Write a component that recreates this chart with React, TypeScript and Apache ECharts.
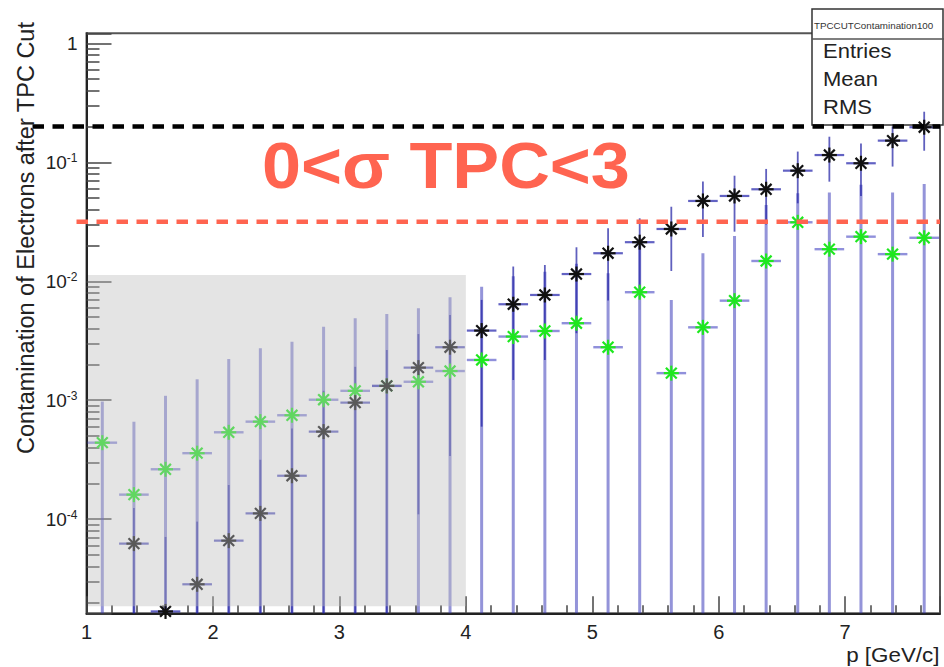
import React, { useEffect, useRef } from 'react';
import * as echarts from 'echarts';

// Momentum bins (GeV/c), 0.25 GeV/c wide
const pBins = [
  1.125, 1.375, 1.625, 1.875, 2.125, 2.375, 2.625, 2.875, 3.125, 3.375,
  3.625, 3.875, 4.125, 4.375, 4.625, 4.875, 5.125, 5.375, 5.625, 5.875,
  6.125, 6.375, 6.625, 6.875, 7.125, 7.375, 7.625,
];
const binHalfWidth = 0.125;

// Contamination, black markers (first bin empty)
const contamBlack = [
  null, 6.24e-5, 1.68e-5, 2.84e-5, 6.61e-5, 1.12e-4, 2.32e-4, 5.45e-4, 9.55e-4, 1.32e-3,
  1.88e-3, 2.79e-3, 3.85e-3, 6.41e-3, 7.67e-3, 1.15e-2, 1.72e-2, 2.13e-2, 2.75e-2, 4.73e-2,
  5.21e-2, 5.93e-2, 8.5e-2, 0.115, 0.0981, 0.152, 0.197,
];
// error band edges; 0 means the lower edge falls below the axis
const blackLow = [
  null, 0, 0, 0, 0, 0, 0, 0, 0, 0,
  1.1e-4, 3.4e-4, 6.0e-4, 1.48e-3, 2.18e-3, 3.66e-3, 6.9e-3, 8.5e-3, 1.22e-2, 2.35e-2,
  2.61e-2, 3.0e-2, 4.52e-2, 6.87e-2, 5.2e-2, 9.2e-2, 0.125,
];
const blackHigh = [
  null, 1.24e-4, 7.1e-5, 9.55e-5, 1.94e-4, 3.16e-4, 5.8e-4, 1.2e-3, 1.91e-3, 2.64e-3,
  3.6e-3, 5.2e-3, 6.97e-3, 1.33e-2, 1.37e-2, 1.93e-2, 2.79e-2, 3.38e-2, 4.23e-2, 6.9e-2,
  7.71e-2, 8.79e-2, 0.123, 0.164, 0.144, 0.2, 0.266,
];

// Contamination, green markers
const contamGreen = [
  4.4e-4, 1.61e-4, 2.63e-4, 3.59e-4, 5.38e-4, 6.61e-4, 7.48e-4, 1.01e-3, 1.2e-3, 1.32e-3,
  1.43e-3, 1.76e-3, 2.18e-3, 3.43e-3, 3.82e-3, 4.44e-3, 2.79e-3, 8.09e-3, 1.69e-3, 4.1e-3,
  6.87e-3, 1.48e-2, 3.13e-2, 1.86e-2, 2.37e-2, 1.69e-2, 2.32e-2,
];
const greenLow = [
  0, 0, 0, 0, 0, 0, 0, 0, 0, 0,
  0, 0, 0, 0, 0, 0, 0, 0, 0, 0,
  0, 0, 0, 0, 0, 0, 0,
];
const greenHigh = [
  9.75e-4, 6.6e-4, 1.09e-3, 1.5e-3, 2.22e-3, 2.73e-3, 3.1e-3, 4.15e-3, 4.89e-3, 5.31e-3,
  5.93e-3, 7.34e-3, 9.0e-3, 1.1e-2, 1.2e-2, 1.4e-2, 1.17e-2, 2.0e-2, 6.97e-3, 1.72e-2,
  2.4e-2, 4.38e-2, 5.5e-2, 5.56e-2, 6.46e-2, 5.56e-2, 6.57e-2,
];

// Horizontal cut levels: upper (black) and lower (red)
const cutLevels = [0.2, 0.0317];

// Shaded low-momentum region: p range and contamination range
const shadeP = [1, 4];
const shadeY = [1.86e-5, 0.0113];

const xRange = [1, 7.75];
const yRange = [1.62e-5, 1.213];

const FONT = '"Liberation Sans", Arial, Helvetica, sans-serif';
const RED = '#ff6450';

const points = (vals: (number | null)[], lo: (number | null)[], hi: (number | null)[]) =>
  pBins
    .map((p, i) => [p, vals[i], lo[i], hi[i]])
    .filter((d) => d[1] != null) as number[][];

const blackData = points(contamBlack, blackLow, blackHigh);
const greenData = points(contamGreen, greenLow, greenHigh);

function errorRenderer(vStroke: string, vWidth: number, hStroke: string, hWidth: number) {
  return (params: any, api: any) => {
    const x = api.value(0);
    const v = api.value(1);
    const lo = api.value(2);
    const hi = api.value(3);
    const cs = params.coordSys;
    const bottom = cs.y + cs.height;
    const top = api.coord([x, hi]);
    const low = lo > 0 ? api.coord([x, lo]) : [top[0], bottom];
    const left = api.coord([x - binHalfWidth, v]);
    const right = api.coord([x + binHalfWidth, v]);
    return {
      type: 'group',
      children: [
        {
          type: 'line',
          shape: { x1: top[0], y1: top[1], x2: low[0], y2: Math.min(low[1], bottom) },
          style: { stroke: vStroke, lineWidth: vWidth },
        },
        {
          type: 'line',
          shape: { x1: left[0] + 1, y1: left[1], x2: right[0] - 1, y2: right[1] },
          style: { stroke: hStroke, lineWidth: hWidth },
        },
      ],
    };
  };
}

function starRenderer(color: string, lw: number) {
  return (_params: any, api: any) => {
    const c = api.coord([api.value(0), api.value(1)]);
    const r = 7.5;
    const d = r * 0.72;
    const seg = (x1: number, y1: number, x2: number, y2: number) => ({
      type: 'line',
      shape: { x1: c[0] + x1, y1: c[1] + y1, x2: c[0] + x2, y2: c[1] + y2 },
      style: { stroke: color, lineWidth: lw },
    });
    return {
      type: 'group',
      children: [seg(-r, 0, r, 0), seg(0, -r, 0, r), seg(-d, -d, d, d), seg(-d, d, d, -d)],
    };
  };
}

const cutStyles = [
  { color: '#000000', extendLeft: 54 },
  { color: RED, extendLeft: 10 },
];

function buildOption(): any {
  return {
    animation: false,
    backgroundColor: '#ffffff',
    grid: {
      left: 86.5,
      right: 4,
      top: 33.3,
      bottom: 53.7,
      show: true,
      borderColor: '#555555',
      borderWidth: 2,
      backgroundColor: 'transparent',
      outerBoundsMode: 'none',
    },
    xAxis: {
      type: 'value',
      min: xRange[0],
      max: xRange[1],
      interval: 1,
      axisLine: { onZero: false, lineStyle: { color: '#222222', width: 2 } },
      axisTick: { inside: true, length: 17, lineStyle: { color: '#444444', width: 1.5 } },
      minorTick: { show: true, splitNumber: 5, length: 8, lineStyle: { color: '#444444', width: 1.5 } },
      splitLine: { show: false },
      minorSplitLine: { show: false },
      axisLabel: {
        showMaxLabel: false,
        margin: 9,
        fontSize: 20,
        color: '#222222',
        fontFamily: FONT,
        formatter: (v: number) => (Number.isInteger(v) ? String(v) : ''),
      },
    },
    yAxis: {
      type: 'log',
      logBase: 10,
      min: yRange[0],
      max: yRange[1],
      axisLine: { show: true, onZero: false, lineStyle: { color: '#222222', width: 2 } },
      axisTick: { inside: true, length: 25, lineStyle: { color: '#444444', width: 1.5 } },
      minorTick: { show: true, splitNumber: 9, length: 13, lineStyle: { color: '#444444', width: 1.5 } },
      splitLine: { show: false },
      minorSplitLine: { show: false },
      axisLabel: {
        showMinLabel: false,
        showMaxLabel: false,
        margin: 9,
        color: '#222222',
        fontFamily: FONT,
        formatter: (v: number) => {
          const l = Math.log10(v);
          const e = Math.round(l);
          if (Math.abs(l - e) > 1e-6) return '';
          if (e === 0) return '{b|1}';
          return `{b|10}{s|${e}}`;
        },
        rich: {
          b: { fontSize: 19, color: '#222222', fontFamily: FONT },
          s: { fontSize: 12, color: '#222222', fontFamily: FONT, verticalAlign: 'top', padding: [0, 0, 8, 0] },
        },
      },
    },
    series: [
      {
        type: 'custom',
        name: 'green errors',
        data: greenData,
        encode: { x: 0, y: 1 },
        renderItem: errorRenderer('rgba(60,60,185,0.55)', 3, 'rgba(70,70,195,0.6)', 2.4),
        z: 2,
        silent: true,
      },
      {
        type: 'custom',
        name: 'black errors',
        data: blackData,
        encode: { x: 0, y: 1 },
        renderItem: errorRenderer('rgba(35,35,165,0.72)', 1.8, 'rgba(45,45,175,0.75)', 2.2),
        z: 3,
        silent: true,
      },
      {
        type: 'custom',
        name: 'green',
        data: greenData,
        encode: { x: 0, y: 1 },
        renderItem: starRenderer('#1ee81e', 2.2),
        clip: false,
        z: 4,
        silent: true,
      },
      {
        type: 'custom',
        name: 'black',
        data: blackData,
        encode: { x: 0, y: 1 },
        renderItem: starRenderer('#111111', 2.2),
        clip: false,
        z: 5,
        silent: true,
      },
      {
        type: 'custom',
        name: 'shade',
        data: [[shadeP[0], shadeP[1], shadeY[0], shadeY[1]]],
        encode: { x: [0, 1], y: [2, 3] },
        renderItem: (_params: any, api: any) => {
          const a = api.coord([api.value(0), api.value(3)]);
          const b = api.coord([api.value(1), api.value(2)]);
          return {
            type: 'rect',
            shape: { x: a[0] + 1.5, y: a[1], width: b[0] - a[0] - 1.5, height: b[1] - a[1] },
            style: { fill: 'rgba(190,190,190,0.42)' },
          };
        },
        clip: false,
        z: 10,
        silent: true,
      },
      {
        type: 'custom',
        name: 'cuts',
        data: cutLevels.map((v) => [xRange[0], v]),
        encode: { x: 0, y: 1 },
        renderItem: (params: any, api: any) => {
          const cs = params.coordSys;
          const y = api.coord([api.value(0), api.value(1)])[1];
          const st = cutStyles[params.dataIndex];
          return {
            type: 'line',
            shape: { x1: cs.x - st.extendLeft, y1: y, x2: cs.x + cs.width, y2: y },
            style: { stroke: st.color, lineWidth: 4.5, lineDash: [11.5, 8.5] },
          };
        },
        clip: false,
        z: 11,
        silent: true,
      },
    ],
    graphic: [
      {
        type: 'text',
        x: 25.5,
        y: 238,
        rotation: Math.PI / 2,
        z: 20,
        style: {
          text: 'Contamination of Electrons after TPC Cut',
          font: `23.5px ${FONT}`,
          fill: '#222222',
          align: 'center',
          verticalAlign: 'middle',
        },
      },
      {
        type: 'text',
        x: 939.5,
        y: 655,
        scaleX: 1.12,
        z: 20,
        style: {
          text: 'p [GeV/c]',
          font: `20px ${FONT}`,
          fill: '#222222',
          align: 'right',
          verticalAlign: 'middle',
        },
      },
      {
        type: 'text',
        x: 262,
        y: 165,
        scaleX: 1.08,
        z: 30,
        style: {
          text: '0<σ TPC<3',
          font: `bold 65px ${FONT}`,
          fill: RED,
          align: 'left',
          verticalAlign: 'middle',
        },
      },
      {
        type: 'group',
        z: 1,
        children: [
          {
            type: 'rect',
            shape: { x: 812, y: 9, width: 131, height: 116 },
            style: { fill: '#ffffff', stroke: '#333333', lineWidth: 1.5 },
            z: 1,
          },
          {
            type: 'line',
            shape: { x1: 812, y1: 39, x2: 944, y2: 39 },
            style: { stroke: '#555555', lineWidth: 1.5 },
            z: 1,
          },
          {
            type: 'text',
            x: 814,
            y: 25,
            z: 1,
            style: { text: 'TPCCUTContamination100', font: `9.8px ${FONT}`, fill: '#333333', verticalAlign: 'middle' },
          },
          {
            type: 'text',
            x: 823,
            y: 51,
            scaleX: 1.1,
            z: 1,
            style: { text: 'Entries', font: `20px ${FONT}`, fill: '#222222', verticalAlign: 'middle' },
          },
          {
            type: 'text',
            x: 823,
            y: 79,
            scaleX: 1.1,
            z: 1,
            style: { text: 'Mean', font: `20px ${FONT}`, fill: '#222222', verticalAlign: 'middle' },
          },
          {
            type: 'text',
            x: 823,
            y: 107,
            scaleX: 1.1,
            z: 1,
            style: { text: 'RMS', font: `20px ${FONT}`, fill: '#222222', verticalAlign: 'middle' },
          },
        ],
      },
    ],
  };
}

export default function App() {
  const ref = useRef<HTMLDivElement>(null);
  useEffect(() => {
    if (!ref.current) return;
    const chart = echarts.init(ref.current, null, { renderer: 'svg' });
    chart.setOption(buildOption());
    return () => {
      chart.dispose();
    };
  }, []);
  return (
    <div
      ref={ref}
      style={{ position: 'fixed', left: 0, top: 0, width: 944, height: 667, background: '#ffffff' }}
    />
  );
}
